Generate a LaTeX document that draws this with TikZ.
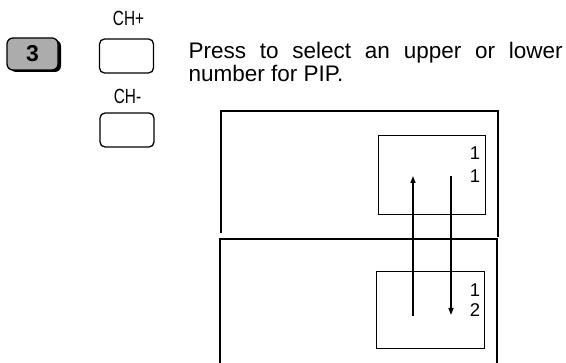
\documentclass[tikz,border=0pt]{standalone}
\usepackage{fontspec}
\setmainfont{Liberation Sans}
\newfontfamily\condfont[FakeStretch=0.75]{Liberation Sans}
\usetikzlibrary{arrows.meta}
\hyphenpenalty=10000
\exhyphenpenalty=10000
\tolerance=10000
\begin{document}
\begin{tikzpicture}[x=1pt,y=-1pt,
  line width=1.3pt,
  chbtn/.style={draw,rounded corners=5pt,minimum width=54pt,minimum height=34pt,inner sep=0pt},
  chlbl/.style={font=\condfont\fontsize{20.5}{20.5}\selectfont,inner sep=0pt},
  smallwin/.style={draw,inner sep=0pt,anchor=north west},
  digit/.style={font=\fontsize{18.5}{18.5}\selectfont,inner sep=0pt},
  arr/.style={-{Triangle[length=7pt,width=5pt]},line width=1.3pt}]
\useasboundingbox (0,0) rectangle (566,363);
% step button 3
\fill[black,rounded corners=6pt] (10,40) rectangle (61,72);
\node[draw,fill=gray!65,rounded corners=6pt,minimum width=51pt,minimum height=32pt,inner sep=0pt,
      font=\bfseries\fontsize{23}{23}\selectfont] (three) at (32.5,54) {3};
% CH buttons
\node[chlbl] (chplus) at (128.5,18.5) {CH+};
\node[chbtn] (btnup) at (126.5,56) {};
\node[chlbl] (chminus) at (127.5,96) {CH-};
\node[chbtn] (btndown) at (127,130) {};
% instruction text
\node[anchor=north west,inner sep=0pt,text width=374pt,align=justify,
      font=\fontsize{22.5}{23}\selectfont] (txt) at (188,41.8)
  {Press to select an upper or lower number for PIP.};
% upper frame (no bottom side)
\draw (221,233) -- (221,111) -- (498,111) -- (498,237);
% lower frame (open at bottom)
\draw (220,364) -- (220,239) -- (497,239) -- (497,364);
% small windows
\node[smallwin,minimum width=107pt,minimum height=79pt] (winA) at (378,135) {};
\node[smallwin,minimum width=108pt,minimum height=77pt] (winB) at (376,271) {};
\node[digit] (a1) at (475,153.5) {1};
\node[digit] (a2) at (475,176.5) {1};
\node[digit] (b1) at (475,290) {1};
\node[digit] (b2) at (475,310) {2};
% arrows
\coordinate (upS) at (413,316);
\coordinate (upE) at (413,176);
\coordinate (dnS) at (451,176);
\coordinate (dnE) at (451,315);
\draw[arr] (upS) -- (upE);
\draw[arr] (dnS) -- (dnE);
\end{tikzpicture}
\end{document}
